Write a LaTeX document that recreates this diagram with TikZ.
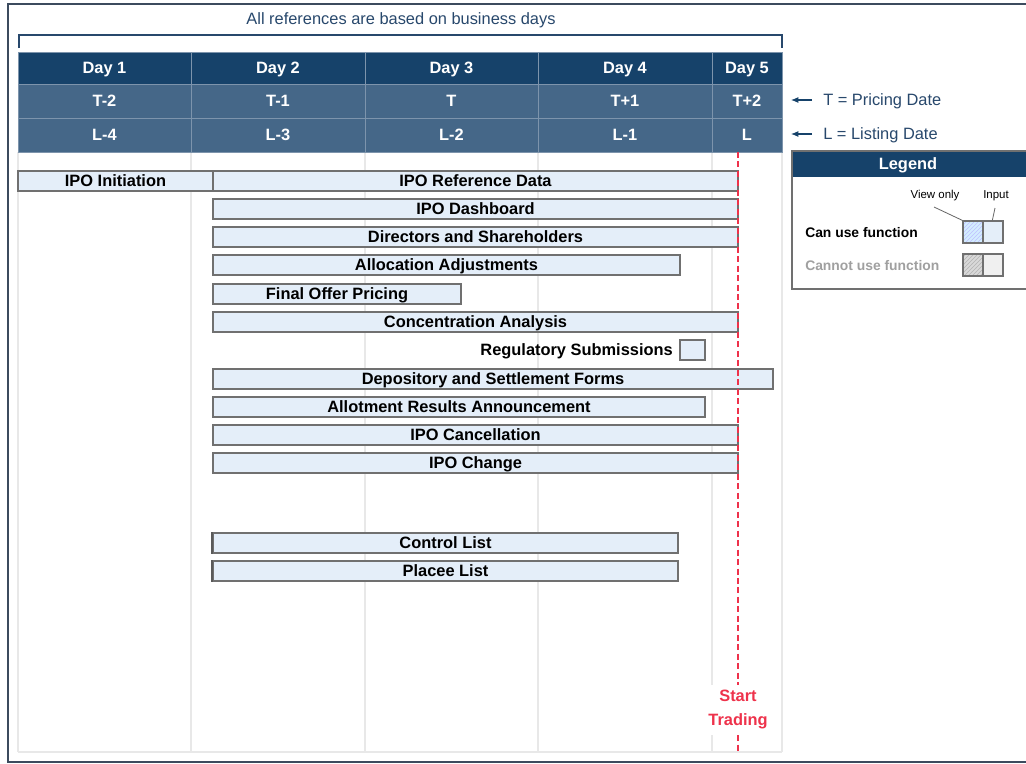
\documentclass[tikz,border=0pt]{standalone}
\usepackage{fontspec}
\setmainfont{Liberation Sans}
\usetikzlibrary{patterns,arrows.meta}
\definecolor{hdr}{RGB}{22,66,106}
\definecolor{subrow}{RGB}{69,103,136}
\definecolor{sepc}{RGB}{125,148,172}
\definecolor{ink}{RGB}{40,72,108}
\definecolor{framec}{RGB}{60,75,94}
\definecolor{barfill}{RGB}{228,238,249}
\definecolor{barline}{RGB}{112,112,112}
\definecolor{gridc}{RGB}{232,232,232}
\definecolor{tradered}{RGB}{238,50,75}
\definecolor{leggray}{RGB}{160,160,160}
\begin{document}
\begin{tikzpicture}[x=0.75pt,y=-0.75pt,
  wd/.style={minimum width=#1*0.75pt},
  ht/.style={minimum height=#1*0.75pt},
  txt/.style={font=\fontsize{12.3}{14}\selectfont\bfseries, text height=8.8pt, text depth=0pt},
  hcell/.style={txt, text=white, draw=sepc, line width=0.6pt, inner sep=0pt},
  bar/.style={txt, fill=barfill, draw=barline, line width=1pt, inner sep=0pt, minimum height=20*0.75pt},
  gridline/.style={gridc, line width=1.5pt},
  redline/.style={tradered, line width=1.5pt, dash pattern=on 4.5pt off 2.6pt},
  note/.style={font=\fontsize{12.3}{14}\selectfont, text=ink, inner sep=0pt, text height=8.8pt, text depth=0pt},
  notearrow/.style={-{Latex[length=5.5pt,width=4.5pt]}, hdr, line width=0.8pt},
  legbox/.style={draw=barline, line width=0.9pt}
]
\clip (0,0) rectangle (1026,764);
\fill[white] (0,0) rectangle (1026,764);
% outer frame
\draw[framec, line width=1.5pt] (8,4) rectangle (1045,762);
% title and bracket
\node[note] (title) at (401,19) {All references are based on business days};
\draw[ink, line width=1.1pt] (19,48) -- (19,35) -- (782,35) -- (782,48);
% grid
\foreach \gx in {18,191,365,538,712,782}{
  \draw[gridline] (\gx,152) -- (\gx,752);
}
\draw[gridline] (18,752) -- (782,752);
% header rows
\foreach \cx/\w/\a/\b/\c [count=\i] in {104.5/173/Day 1/T-2/L-4, 278/174/Day 2/T-1/L-3, 451.5/173/Day 3/T/L-2, 625/174/Day 4/T+1/L-1, 747/70/Day 5/T+2/L}{
  \node[hcell, fill=hdr, wd=\w, ht=32] (day\i) at (\cx,68) {\a};
  \node[hcell, fill=subrow, wd=\w, ht=34] (t\i) at (\cx,101) {\b};
  \node[hcell, fill=subrow, wd=\w, ht=34] (l\i) at (\cx,135) {\c};
}
% notes at right
\node[note, anchor=west] (tnote) at (823,100) {T = Pricing Date};
\node[note, anchor=west] (lnote) at (823,134) {L = Listing Date};
\coordinate (ta) at (812,100);
\coordinate (tb) at (791,100);
\coordinate (la) at (812,134);
\coordinate (lb) at (791,134);
\draw[notearrow] (ta) -- (tb);
\draw[notearrow] (la) -- (lb);
% bars
\node[bar, wd=195] (init) at (115.5,181) {IPO Initiation};
\node[bar, wd=525] (ref) at (475.5,181) {IPO Reference Data};
\node[bar, wd=525] (dash) at (475.5,209) {IPO Dashboard};
\node[bar, wd=525] (dirs) at (475.5,237) {Directors and Shareholders};
\node[bar, wd=467] (alloc) at (446.5,265) {Allocation Adjustments};
\node[bar, wd=248] (final) at (337,294) {Final Offer Pricing};
\node[bar, wd=525] (conc) at (475.5,322) {Concentration Analysis};
\node[bar, wd=25] (reg) at (692.5,350) {};
\node[txt, anchor=east, inner sep=0pt] (regtext) at (673,350) {Regulatory Submissions};
\node[bar, wd=560] (depo) at (493,379) {Depository and Settlement Forms};
\node[bar, wd=492] (allot) at (459,407) {Allotment Results Announcement};
\node[bar, wd=525] (canc) at (475.5,435) {IPO Cancellation};
\node[bar, wd=525] (chg) at (475.5,463) {IPO Change};
\node[bar, wd=465] (ctrl) at (445.5,543) {Control List};
\node[bar, wd=465] (plac) at (445.5,571) {Placee List};
\draw[barline!80!black, line width=1.6pt] (ctrl.north west) -- (ctrl.south west);
\draw[barline!80!black, line width=1.6pt] (plac.north west) -- (plac.south west);
% start trading line
\node[text=tradered, fill=white, align=center, inner sep=0pt, wd=64, ht=50,
      font=\fontsize{12.3}{18}\selectfont\bfseries] (st) at (738,710) {Start\\Trading};
\coordinate (rtop) at (738,152);
\coordinate (rbot) at (738,752);
\draw[redline] (rtop) -- (st.north);
\draw[redline] (st.south) -- (rbot);
% legend
\draw[legbox, fill=white] (792,151) rectangle (1040,289);
\fill[hdr] (792,151) rectangle (1040,177);
\draw[legbox] (792,151) rectangle (1040,289);
\node[txt, text=white, inner sep=0pt] (legtitle) at (908,164) {Legend};
\node[font=\fontsize{8.6}{10}\selectfont, inner sep=0pt] (vo) at (935,196) {View only};
\node[font=\fontsize{8.6}{10}\selectfont, inner sep=0pt] (inp) at (996,196) {Input};
\node[font=\fontsize{10.4}{12}\selectfont\bfseries, anchor=west, inner sep=0pt, text height=7.5pt, text depth=0pt] (can) at (805,232) {Can use function};
\node[font=\fontsize{10.4}{12}\selectfont\bfseries, text=leggray, anchor=west, inner sep=0pt, text height=7.5pt, text depth=0pt] (cannot) at (805,265) {Cannot use function};
\fill[blue!8!white!90!cyan] (963,221) rectangle (983,243);
\path[pattern=north east lines, pattern color=blue!25!white] (963,221) rectangle (983,243);
\fill[barfill] (983,221) rectangle (1003,243);
\fill[black!15] (963,254) rectangle (983,276);
\path[pattern=north east lines, pattern color=black!30] (963,254) rectangle (983,276);
\fill[black!6] (983,254) rectangle (1003,276);
\node[legbox, inner sep=0pt, wd=20, ht=22] (cv) at (973,232) {};
\node[legbox, inner sep=0pt, wd=20, ht=22] (ci) at (993,232) {};
\node[legbox, inner sep=0pt, wd=20, ht=22] (nv) at (973,265) {};
\node[legbox, inner sep=0pt, wd=20, ht=22] (ni) at (993,265) {};
\coordinate (vol) at (934,207);
\coordinate (inl) at (995,208);
\draw[black!60, line width=0.6pt] (vol) -- (cv.north west);
\draw[black!60, line width=0.6pt] (inl) -- ([xshift=-0.5pt]ci.north);
\end{tikzpicture}
\end{document}
